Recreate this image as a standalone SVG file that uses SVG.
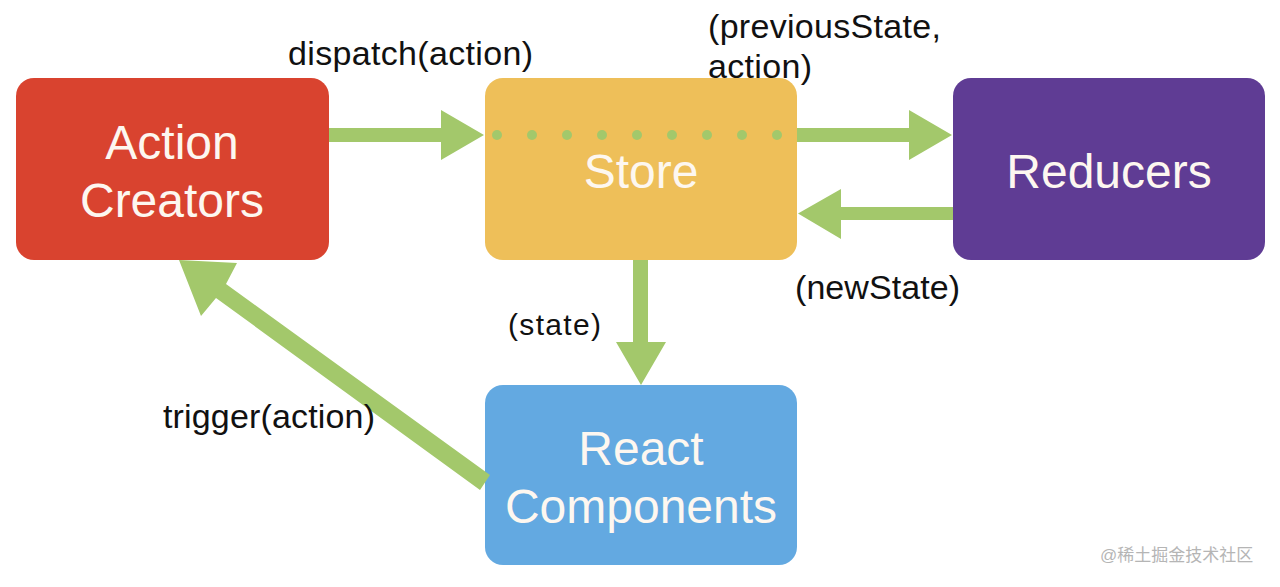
<svg xmlns="http://www.w3.org/2000/svg" width="1280" height="587" viewBox="0 0 1280 587">
<style>
.box-text{font-family:"Liberation Sans",Arial,sans-serif;font-size:48px;fill:#fdf7f0;text-anchor:middle}
.lbl{font-family:"Liberation Sans",Arial,sans-serif;font-size:34px;fill:#111}
.arrow{fill:#a3c86b}
.wm{font-family:"Liberation Sans","Noto Sans CJK SC",sans-serif;font-size:17px;fill:#b5b5b5}
</style>
<rect width="1280" height="587" fill="#ffffff"/>
<g id="node-action-creators">
<rect x="16" y="78" width="313" height="182" rx="18" fill="#d9432f"/>
<text class="box-text" x="172" y="159">Action</text>
<text class="box-text" x="172" y="217">Creators</text>
</g>
<g id="node-store">
<rect x="485" y="78" width="312" height="182" rx="18" fill="#eebf59"/>
<text class="box-text" x="641" y="188">Store</text>
</g>
<g id="node-reducers">
<rect x="953" y="78" width="312" height="182" rx="18" fill="#5f3c94"/>
<text class="box-text" x="1109" y="188">Reducers</text>
</g>
<g id="node-react-components">
<rect x="485" y="385" width="312" height="180" rx="18" fill="#63a9e1"/>
<text class="box-text" x="641" y="465">React</text>
<text class="box-text" x="641" y="523">Components</text>
</g>
<g id="connectors">
<polygon class="arrow" points="329,128 441,128 441,110 484,135 441,160 441,142 329,142"/>
<g fill="#a3c86b">
<circle cx="497" cy="135" r="5"/><circle cx="532" cy="135" r="5"/><circle cx="567" cy="135" r="5"/><circle cx="602" cy="135" r="5"/><circle cx="637" cy="135" r="5"/><circle cx="672" cy="135" r="5"/><circle cx="707" cy="135" r="5"/><circle cx="742" cy="135" r="5"/><circle cx="777" cy="135" r="5"/>
</g>
<polygon class="arrow" points="797,128 909,128 909,110 952,135 909,160 909,142 797,142"/>
<polygon class="arrow" points="953,207 841,207 841,189 798,213.5 841,239 841,220 953,220"/>
<polygon class="arrow" points="633,260 648,260 648,342 666,342 641,385 616,342 633,342"/>
<polygon class="arrow" points="490,475 480,490 216,298 201,316 179,260 237,263 226,284"/>
<text class="lbl" x="288" y="65" textLength="245">dispatch(action)</text>
<text class="lbl" x="708" y="38" textLength="233">(previousState,</text>
<text class="lbl" x="708" y="78" textLength="104">action)</text>
<text class="lbl" x="795" y="299" textLength="165">(newState)</text>
<text class="lbl" x="508" y="335" style="font-size:30px" textLength="93">(state)</text>
<text class="lbl" x="163" y="428" textLength="212">trigger(action)</text>
</g>
<text class="wm" x="1100" y="561">@稀土掘金技术社区</text>
</svg>
